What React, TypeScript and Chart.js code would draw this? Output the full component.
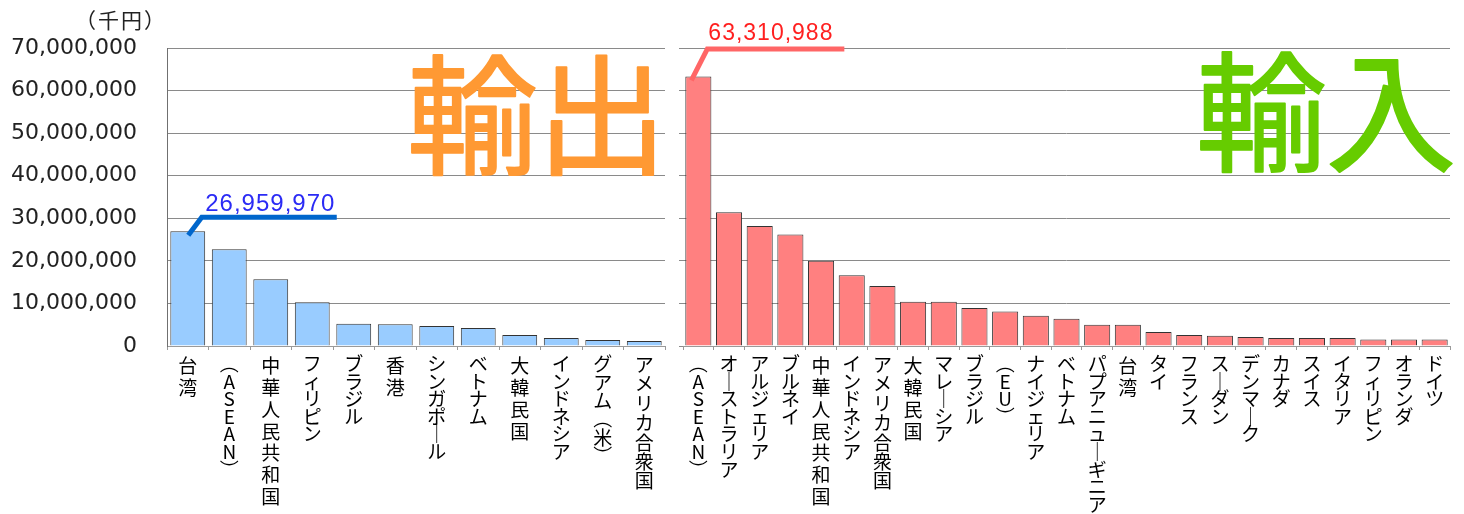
import React, { useEffect, useRef } from "react";
import { Chart, registerables } from "chart.js";

Chart.register(...registerables);

// ---------- data ----------
const exportCategories = [
  "台湾", "（ASEAN）", "中華人民共和国", "フィリピン", "ブラジル", "香港",
  "シンガポール", "ベトナム", "大韓民国", "インドネシア", "グアム（米）", "アメリカ合衆国",
];
const exportValues = [
  26959970, 22700000, 15700000, 10300000, 5200000, 5100000,
  4700000, 4200000, 2600000, 1900000, 1400000, 1200000,
];

const importCategories = [
  "（ASEAN）", "オーストラリア", "アルジェリア", "ブルネイ", "中華人民共和国", "インドネシア",
  "アメリカ合衆国", "大韓民国", "マレーシア", "ブラジル", "（EU）", "ナイジェリア",
  "ベトナム", "パプアニューギニア", "台湾", "タイ", "フランス", "スーダン",
  "デンマーク", "カナダ", "スイス", "イタリア", "フィリピン", "オランダ", "ドイツ",
];
const importValues = [
  63310988, 31400000, 28200000, 26200000, 20000000, 16600000,
  14100000, 10400000, 10400000, 8900000, 8100000, 7100000,
  6400000, 5000000, 5000000, 3300000, 2600000, 2400000,
  2100000, 1900000, 1900000, 1900000, 1500000, 1500000, 1500000,
];

const yTickValues = [0, 10000000, 20000000, 30000000, 40000000, 50000000, 60000000, 70000000];
const unitLabel = "（千円）";
const exportTitle = "輸出";
const importTitle = "輸入";

// ---------- styling helpers ----------
const CJK = '"Noto Sans CJK JP", "Noto Sans", sans-serif';
const NUM = '"DejaVu Sans", sans-serif';

const verticalMap: Record<string, string> = {
  "ー": "｜",
  "（": "︵",
  "）": "︶",
  "(": "︵",
  ")": "︶",
};
const toVertical = (s: string) => Array.from(s).map((c) => verticalMap[c] ?? c);

const LABEL_SIZE = 19;
const lineHeightFor = (label: string) => {
  const chars = Array.from(label);
  let total = 0;
  chars.forEach((c) => {
    total += /[\u4e00-\u9fff]/.test(c) ? 21.8 : 17.6;
  });
  return total / chars.length / LABEL_SIZE;
};

const fmt = (v: number) => Number(v).toLocaleString("en-US");

type Callout = {
  lineColor: string;
  textColor: string;
  font: string;
  start: [number, number];
  elbow: [number, number];
  endX: number;
  textX: number;
  textY: number;
};

function makePlugin(opts: {
  title: string;
  titleColor: string;
  titleDx: number;
  titleDy: number;
  callout: Callout;
  values: number[];
  unit?: string;
}) {
  return {
    id: "decor",
    afterDraw(chart: any) {
      const { ctx, chartArea } = chart;
      ctx.save();
      // big title (rounded look: regular weight + round stroke)
      ctx.font = `400 130px ${CJK}`;
      ctx.fillStyle = opts.titleColor;
      ctx.strokeStyle = opts.titleColor;
      ctx.lineWidth = 2;
      ctx.lineJoin = "round";
      ctx.lineCap = "round";
      ctx.textAlign = "right";
      ctx.textBaseline = "middle";
      const tx = chartArea.right + opts.titleDx;
      const ty = chartArea.top + opts.titleDy;
      ctx.strokeText(opts.title, tx, ty);
      ctx.fillText(opts.title, tx, ty);

      // unit label
      if (opts.unit) {
        ctx.font = `21px ${CJK}`;
        (ctx as any).letterSpacing = "2px";
        ctx.fillStyle = "#222";
        ctx.textAlign = "left";
        ctx.textBaseline = "middle";
        ctx.fillText(opts.unit, chartArea.left - 92, 20);
        (ctx as any).letterSpacing = "0px";
      }

      // callout on the largest bar
      const vals = opts.values;
      let idx = 0;
      vals.forEach((v, i) => {
        if (v > vals[idx]) idx = i;
      });
      const el = chart.getDatasetMeta(0).data[idx];
      if (el) {
        const c = opts.callout;
        const x = el.x;
        const y = el.y;
        ctx.strokeStyle = c.lineColor;
        ctx.lineWidth = 5;
        ctx.lineCap = "butt";
        ctx.lineJoin = "miter";
        ctx.beginPath();
        ctx.moveTo(x + c.start[0], y + c.start[1]);
        ctx.lineTo(x + c.elbow[0], y + c.elbow[1]);
        ctx.lineTo(x + c.endX, y + c.elbow[1]);
        ctx.stroke();
        ctx.font = c.font;
        (ctx as any).letterSpacing = "1px";
        ctx.fillStyle = c.textColor;
        ctx.textAlign = "left";
        ctx.textBaseline = "alphabetic";
        ctx.fillText(fmt(vals[idx]), x + c.textX, y + c.textY);
        (ctx as any).letterSpacing = "0px";
      }
      ctx.restore();
    },
  };
}

function makeConfig(p: {
  categories: string[];
  values: number[];
  fill: string;
  showYLabels: boolean;
  yWidth: number;
  padRight: number;
  barPct: number;
  plugin: any;
}) {
  return {
    type: "bar" as const,
    data: {
      labels: p.categories.map(toVertical),
      datasets: [
        {
          data: p.values,
          backgroundColor: p.fill,
          borderColor: "#333333",
          borderWidth: 1,
          barPercentage: p.barPct,
          categoryPercentage: 1,
        },
      ],
    },
    options: {
      responsive: false,
      animation: false as const,
      layout: { padding: { top: 48, right: p.padRight, bottom: 0, left: 0 } },
      plugins: { legend: { display: false }, tooltip: { enabled: false }, title: { display: false } },
      scales: {
        x: {
          grid: {
            display: true,
            drawOnChartArea: false,
            drawTicks: true,
            tickLength: 4,
            color: "#9a9a9a",
          },
          border: { display: true, color: "#9a9a9a" },
          ticks: {
            autoSkip: false,
            maxRotation: 0,
            minRotation: 0,
            padding: 5,
            color: "#000",
            font: (ctx: any) => ({
              family: CJK,
              size: LABEL_SIZE,
              lineHeight: lineHeightFor(p.categories[ctx.index] ?? ""),
            }),
          },
          afterFit: (scale: any) => {
            scale.height = 168;
          },
        },
        y: {
          min: 0,
          max: 70000000,
          afterBuildTicks: (scale: any) => {
            scale.ticks = yTickValues.map((v) => ({ value: v }));
          },
          grid: {
            color: "#8a8a8a",
            lineWidth: 1,
            drawTicks: !p.showYLabels,
            tickLength: 4,
          },
          border: { display: p.showYLabels, color: "#707070" },
          ticks: {
            display: p.showYLabels,
            padding: 30,
            color: "#222",
            font: { family: NUM, size: 22 },
            callback: (v: any) => fmt(v),
          },
          afterFit: (scale: any) => {
            scale.width = p.yWidth;
          },
        },
      },
    },
    plugins: [p.plugin],
  };
}

export default function App() {
  const leftRef = useRef<HTMLCanvasElement>(null);
  const rightRef = useRef<HTMLCanvasElement>(null);

  useEffect(() => {
    const left = new Chart(
      leftRef.current as HTMLCanvasElement,
      makeConfig({
        categories: exportCategories,
        values: exportValues,
        fill: "#99CCFF",
        showYLabels: true,
        yWidth: 167,
        padRight: 7,
        barPct: 0.84,
        plugin: makePlugin({
          title: exportTitle,
          titleColor: "#FF9933",
          titleDx: 2,
          titleDy: 67,
          values: exportValues,
          unit: unitLabel,
          callout: {
            lineColor: "#0066CC",
            textColor: "#2B2BF5",
            font: `24px "Liberation Sans", sans-serif`,
            start: [0.5, 4],
            elbow: [14, -14],
            endX: 149,
            textX: 17.5,
            textY: -20,
          },
        }),
      }) as any
    );
    const right = new Chart(
      rightRef.current as HTMLCanvasElement,
      makeConfig({
        categories: importCategories,
        values: importValues,
        fill: "#FF8080",
        showYLabels: false,
        yWidth: 11,
        padRight: 14,
        barPct: 0.85,
        plugin: makePlugin({
          title: importTitle,
          titleColor: "#66CC00",
          titleDx: 6,
          titleDy: 64,
          values: importValues,
          callout: {
            lineColor: "#FF6666",
            textColor: "#FF2020",
            font: `23px "Liberation Sans", sans-serif`,
            start: [-7, 4],
            elbow: [9, -27.5],
            endX: 146,
            textX: 10,
            textY: -36,
          },
        }),
      }) as any
    );
    return () => {
      left.destroy();
      right.destroy();
    };
  }, []);

  return (
    <div
      style={{
        position: "absolute",
        left: 0,
        top: 0,
        width: 1464,
        height: 514,
        background: "#ffffff",
        overflow: "hidden",
      }}
    >
      <canvas
        ref={leftRef}
        width={672}
        height={514}
        style={{ position: "absolute", left: 0, top: 0, width: 672, height: 514 }}
      />
      <canvas
        ref={rightRef}
        width={792}
        height={514}
        style={{ position: "absolute", left: 672, top: 0, width: 792, height: 514 }}
      />
    </div>
  );
}
